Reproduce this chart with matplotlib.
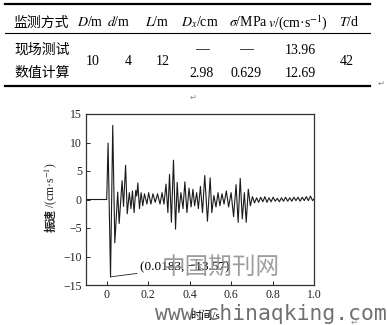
import matplotlib
matplotlib.use("Agg")
import matplotlib.pyplot as plt
from matplotlib.lines import Line2D

plt.rcParams['font.family'] = ['Liberation Serif', 'Noto Sans CJK SC']
plt.rcParams['mathtext.fontset'] = 'stix'

# table contents
header = ['监测方式', '$D$/m', '$d$/m', '$L$/m', '$D_x$/cm', r'$\sigma$/MPa',
          '$v$/(cm·s$^{-1}$)', '$T$/d']
row_names = ['现场测试', '数值计算']
shared_vals = ['10', '4', '12', '42']
dx_vals = ['—', '2.98']
sigma_vals = ['—', '0.629']
v_vals = ['13.96', '12.69']

# vibration velocity record (peaks and troughs)
t = [-0.1, 0.0, 0.0065, 0.0183, 0.029, 0.039, 0.053, 0.060, 0.074, 0.081,
     0.091, 0.099, 0.109, 0.117, 0.124, 0.132, 0.140, 0.145, 0.150, 0.158,
     0.166, 0.174, 0.182, 0.194, 0.202, 0.213, 0.223, 0.234, 0.245, 0.257,
     0.267, 0.276, 0.286, 0.295, 0.303, 0.312, 0.322, 0.332, 0.340, 0.348,
     0.358, 0.368, 0.377, 0.387, 0.397, 0.407, 0.416, 0.424, 0.434, 0.442,
     0.452, 0.462, 0.473, 0.486, 0.499, 0.507, 0.517, 0.527, 0.537, 0.546,
     0.556, 0.566, 0.577, 0.588, 0.600, 0.612, 0.624, 0.634, 0.644, 0.654,
     0.664, 0.673, 0.683, 0.693, 0.703, 0.713, 0.723, 0.733, 0.743, 0.753,
     0.763, 0.773, 0.783, 0.793, 0.803, 0.813, 0.823, 0.833, 0.843, 0.853,
     0.863, 0.873, 0.883, 0.893, 0.903, 0.913, 0.923, 0.933, 0.943, 0.953,
     0.963, 0.973, 0.983, 0.993, 1.0]
vel = [0.0, 0.0, 9.9, -13.57, 13.0, -7.6, 1.3, -4.2, 3.3, -1.2,
       6.0, -2.5, 1.2, -1.6, 1.5, -2.3, 1.6, 0.6, 2.9, -1.6,
       1.2, -1.1, 1.0, -0.8, 1.2, -0.8, 1.0, -0.5, 1.0, -0.8,
       1.2, -0.8, 2.7, -2.3, 4.4, -4.0, 6.9, -5.2, 3.0, -2.3,
       1.2, -1.6, 3.1, -2.3, 2.0, -1.3, 1.8, -1.1, 1.2, -1.6,
       2.3, -2.3, 4.2, -3.8, 3.8, -2.3, 0.7, -1.3, 1.2, -1.1,
       1.0, -0.8, 1.5, -1.3, 1.2, -3.0, 2.6, -4.0, 3.7, -3.4,
       1.2, -4.0, 1.8, -1.1, 0.5, -0.6, 0.3, -0.5, 0.4, -0.4,
       0.5, -0.5, 0.3, -0.4, 0.4, -0.3, 0.2, -0.4, 0.3, -0.3,
       0.4, -0.3, 0.3, -0.3, 0.4, -0.2, 0.4, -0.3, 0.4, -0.2,
       0.5, -0.2, 0.6, -0.2, 0.1]
t_min, v_min = 0.0183, -13.57

W, H = 387, 325
fig = plt.figure(figsize=(W / 100, H / 100), dpi=100)


def fx(px):
    return px / W


def fy(py):
    return 1 - py / H


# --- three-line table ---
fs = 10
for y, lw in [(4.3, 1.6), (33.3, 0.8), (86, 1.6)]:
    fig.add_artist(Line2D([fx(5), fx(370)], [fy(y), fy(y)], color='black', lw=lw))

col_x = [41, 90, 119, 157, 200, 248, 298, 349]
fig.text(fx(col_x[0]), fy(22.5), header[0], ha='center', va='center', fontsize=fs,
         family='Noto Sans CJK SC')
for x, h in zip(col_x[1:], header[1:]):
    fig.text(fx(x), fy(22.5), h, ha='center', va='center', fontsize=fs)

row_y = [50, 73]
for i, y in enumerate(row_y):
    fig.text(fx(42), fy(y), row_names[i], ha='center', va='center', fontsize=fs,
             family='Noto Sans CJK SC')
    fig.text(fx(202), fy(y), dx_vals[i], ha='center', va='center', fontsize=fs)
    fig.text(fx(246), fy(y), sigma_vals[i], ha='center', va='center', fontsize=fs)
    fig.text(fx(300), fy(y), v_vals[i], ha='center', va='center', fontsize=fs)
for x, s in zip([93, 128, 163, 347], shared_vals):
    fig.text(fx(x), fy(61.5), s, ha='center', va='center', fontsize=fs)

# paragraph marks
for x, y in [(381, 83), (193, 97), (354, 322)]:
    fig.text(fx(x), fy(y), '↵', ha='center', va='center', fontsize=6,
             color='#888888', family='DejaVu Sans')

# --- waveform ---
ax = fig.add_axes([fx(86), fy(285), fx(314) - fx(86), fy(114) - fy(285)])
ax.plot(t, vel, color='#1a1a1a', lw=0.8)
ax.set_xlim(-0.1, 1.0)
ax.set_ylim(-15, 15)
ax.set_xticks([0, 0.2, 0.4, 0.6, 0.8, 1.0])
ax.set_xticklabels(['0', '0.2', '0.4', '0.6', '0.8', '1.0'])
ax.set_yticks([-15, -10, -5, 0, 5, 10, 15])
ax.set_yticklabels(['−15', '−10', '−5', '0', '5', '10', '15'])
ax.tick_params(direction='in', length=3, width=0.7, labelsize=8.5, pad=3,
               colors='#222222')
for sp in ax.spines.values():
    sp.set_linewidth(0.9)
    sp.set_color('#333333')

# y label in two pieces: CJK part, then the unit in mathtext
fig.text(fx(51), fy(232), '振速', rotation=90, ha='center', va='bottom',
         fontsize=8.3, fontweight='bold', family='Noto Sans CJK SC', color='#222222')
fig.text(fx(51), fy(208), '/(cm·s$^{-1}$)', rotation=90, ha='center', va='bottom',
         fontsize=8.5, color='#222222')

ax.set_xlabel('时间/s', fontsize=8)
ax.xaxis.set_label_coords(0.52, -0.15)

ax.annotate('(0.0183, −13.57)', xy=(t_min, v_min), xytext=(0.16, -11.9),
            fontsize=9.5, va='center', ha='left',
            arrowprops=dict(arrowstyle='-', color='#222222', lw=0.6,
                            shrinkA=0, shrinkB=0))

# site watermark
fig.text(fx(221), fy(267), '中国期刊网', ha='center', va='center', fontsize=17,
         color='#8c8c8c', family='Noto Sans CJK SC', alpha=0.85)
fig.text(fx(155), fy(314), 'www.chinaqking.com', ha='left', va='center',
         fontsize=15.4, color='#707070', family='DejaVu Sans Mono')

fig.savefig('out.png', dpi=100)
